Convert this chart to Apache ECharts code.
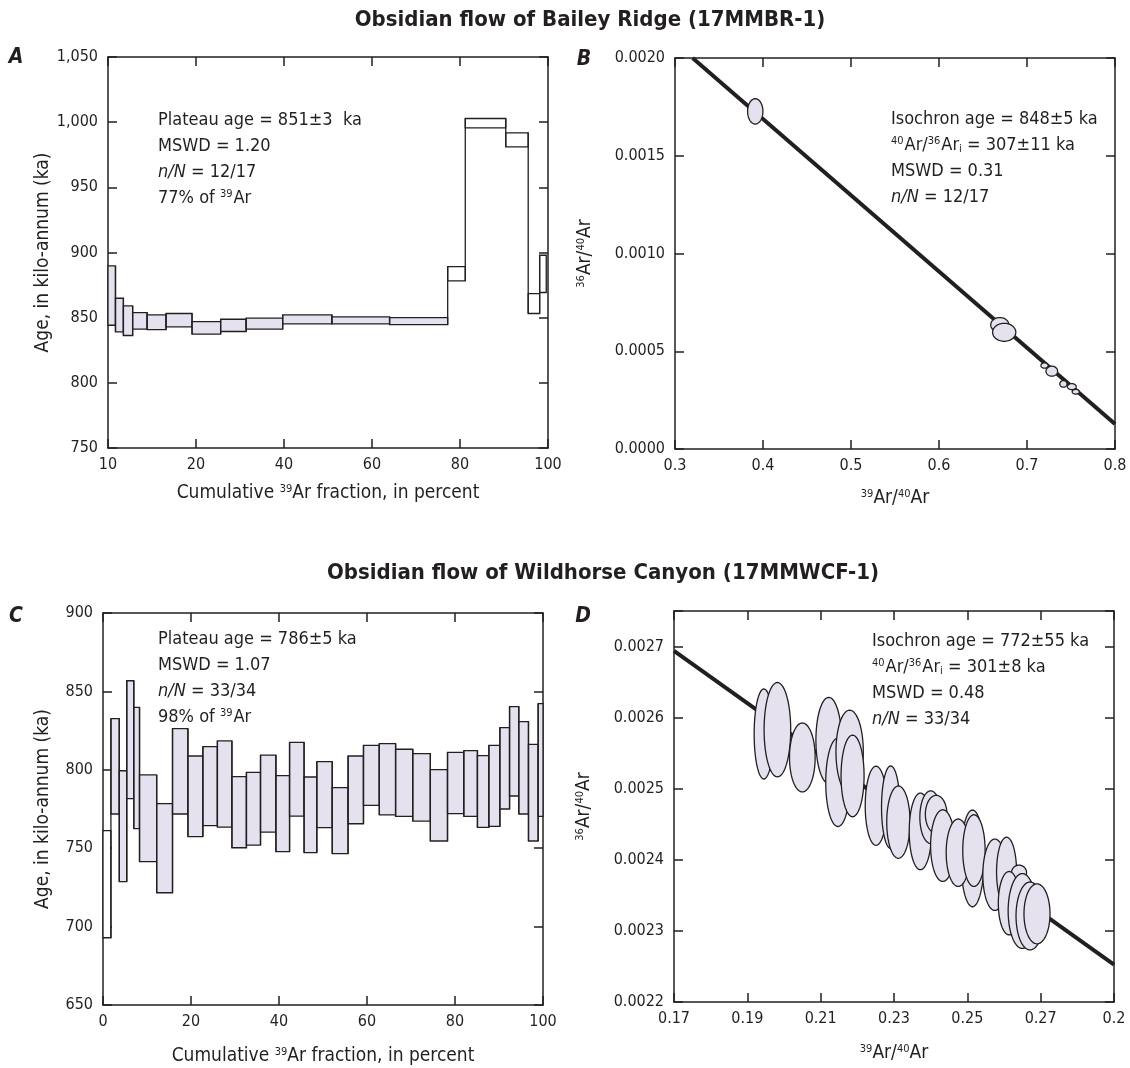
<!DOCTYPE html>
<html><head><meta charset="utf-8">
<script src="https://cdn.jsdelivr.net/npm/echarts@6/dist/echarts.min.js"></script>
<style>html,body{margin:0;padding:0;background:#fff}#c{width:1130px;height:1068px}</style>
</head><body><div id="c"></div>
<script>
const FONT = "'Liberation Sans Narrow','DejaVu Sans Condensed','Roboto Condensed','Liberation Sans',sans-serif";
const INK = '#231f20';
const FILL = '#e6e1ef';

// ---- Panel A: age spectrum, Bailey Ridge (17MMBR-1) ----
const a_cum = [0, 1.7, 3.5, 5.6, 8.9, 13.2, 19.1, 25.6, 31.4, 39.7, 50.9, 64.0, 77.2, 81.2, 90.4, 95.5, 98.1, 99.6];
const a_low = [844.2, 839.1, 836.3, 841.2, 840.9, 843.0, 837.3, 839.4, 841.2, 845.2, 845.2, 844.7, 878.2, 995.6, 981.1, 853.2, 869.3];
const a_high = [889.7, 864.9, 859.0, 853.9, 852.1, 853.2, 847.0, 848.8, 849.6, 852.1, 850.6, 850.1, 889.2, 1002.8, 991.8, 868.5, 897.9];
const a_plateau = [1,1,1,1,1,1,1,1,1,1,1,1,0,0,0,0,0];
const a_xticks = [0, 20, 40, 60, 80, 100];
const a_xtickLabels = ['10', '20', '40', '60', '80', '100'];

// ---- Panel B: isochron, Bailey Ridge ----
const b_x = [0.3912, 0.6691, 0.6741, 0.7199, 0.7282, 0.7414, 0.7509, 0.7554];
const b_y = [0.001727, 0.000635, 0.000597, 0.000427, 0.000398, 0.000333, 0.000319, 0.000293];
const b_sx = [0.0087, 0.0103, 0.0132, 0.0041, 0.0066, 0.0041, 0.0050, 0.0041];
const b_sy = [0.0000648, 0.0000375, 0.000046, 0.0000137, 0.0000256, 0.000017, 0.0000154, 0.000012];
const b_lineX = [0.32, 0.8];
const b_lineY = [0.0020, 0.000128];

// ---- Panel C: age spectrum, Wildhorse Canyon (17MMWCF-1) ----
const c_cum = [0,1.8,3.7,5.4,7.0,8.3,12.2,15.8,19.3,22.7,26.0,29.3,32.6,35.8,39.3,42.4,45.7,48.6,52.1,55.7,59.2,62.8,66.5,70.4,74.4,78.3,82.0,85.1,87.7,90.2,92.4,94.5,96.7,98.9,100];
const c_low = [692.9,771.8,728.7,781.6,762.5,741.4,721.6,771.8,757.4,764.4,763.5,750.3,752.0,760.3,747.8,770.5,747.2,763.1,746.5,765.6,777.3,771.2,770.3,767.3,754.6,772.0,770.3,763.3,763.9,775.0,783.3,771.8,754.6,770.3];
const c_high = [761.2,832.6,799.4,856.8,839.8,796.7,778.4,826.2,808.8,814.8,818.4,795.6,798.4,809.4,796.3,817.5,795.4,805.2,788.6,808.8,815.6,816.7,813.1,810.3,800.1,811.1,812.2,809.0,815.6,826.9,840.3,830.7,816.2,842.2];
const c_plateau = [0].concat(new Array(33).fill(1));

// ---- Panel D: isochron, Wildhorse Canyon ----
const d_x = [0.1945,0.1982,0.2050,0.2122,0.2147,0.2179,0.2187,0.2251,0.2291,0.2312,0.2372,0.2400,0.2415,0.2433,0.2514,0.2475,0.2518,0.2575,0.2607,0.2641,0.2614,0.2650,0.2671,0.2690];
const d_y = [0.002577,0.002583,0.002544,0.002568,0.002509,0.002552,0.002518,0.002476,0.002474,0.002453,0.002440,0.002460,0.002464,0.002420,0.002402,0.002410,0.002413,0.002379,0.002383,0.002382,0.002339,0.002328,0.002321,0.002324];
const d_sx = [0.00264,0.00363,0.00350,0.00350,0.00332,0.00373,0.00314,0.00295,0.00250,0.00318,0.00305,0.00295,0.00295,0.00332,0.00318,0.00327,0.00305,0.00327,0.00273,0.00205,0.00295,0.00387,0.00382,0.00355];
const d_sy = [0.0000633,0.0000664,0.0000485,0.0000605,0.0000621,0.0000586,0.0000574,0.0000556,0.0000580,0.0000509,0.0000539,0.0000370,0.0000267,0.0000504,0.0000680,0.0000474,0.0000504,0.0000502,0.0000488,0.0000105,0.0000446,0.0000527,0.0000478,0.0000422];
const d_lineX = [0.17, 0.29];
const d_lineY = [0.002694, 0.0022527];

const chart = echarts.init(document.getElementById('c'), null, {renderer: 'canvas'});

const grids = [
  {left: 108, top: 57, width: 440, height: 391},
  {left: 675, top: 58, width: 440, height: 391},
  {left: 103, top: 613, width: 440, height: 392},
  {left: 674, top: 611, width: 440, height: 391}
];

const LBL = 16, NAME = 19;
const nameRich = {sup: {fontSize: 11, fontFamily: FONT, color: INK, padding: [0, 0, 8, 0]}};

function xAxes(gi, min, max, interval, fmt, name, nameGap) {
  const common = {
    gridIndex: gi, type: 'value', min: min, max: max, interval: interval,
    splitLine: {show: false},
    axisLine: {show: true, onZero: false, lineStyle: {color: INK, width: 1.5}},
    axisTick: {show: true, inside: true, length: 9, lineStyle: {color: INK, width: 1.5}}
  };
  return [
    Object.assign({}, common, {
      position: 'bottom',
      axisLabel: {show: true, formatter: fmt, fontSize: LBL, fontFamily: FONT, color: INK, margin: 9},
      name: name, nameLocation: 'middle', nameGap: nameGap,
      nameTextStyle: {fontSize: NAME, fontFamily: FONT, color: INK, rich: nameRich}
    }),
    Object.assign({}, common, {position: 'top', axisLabel: {show: false}})
  ];
}
function yAxes(gi, min, max, interval, fmt, name, nameGap) {
  const common = {
    gridIndex: gi, type: 'value', min: min, max: max, interval: interval,
    splitLine: {show: false},
    axisLine: {show: true, onZero: false, lineStyle: {color: INK, width: 1.5}},
    axisTick: {show: true, inside: true, length: 9, lineStyle: {color: INK, width: 1.5}}
  };
  return [
    Object.assign({}, common, {
      position: 'left',
      axisLabel: {show: true, formatter: fmt, fontSize: LBL, fontFamily: FONT, color: INK, margin: 10},
      name: name, nameLocation: 'middle', nameGap: nameGap,
      nameTextStyle: {fontSize: NAME, fontFamily: FONT, color: INK, rich: nameRich}
    }),
    Object.assign({}, common, {position: 'right', axisLabel: {show: false}})
  ];
}

const xAxis = [].concat(
  xAxes(0, 0, 100, 20, v => a_xtickLabels[a_xticks.indexOf(v)] || String(v), 'Cumulative {sup|39}Ar fraction, in percent', 36),
  xAxes(1, 0.3, 0.8, 0.1, v => v.toFixed(1), '{sup|39}Ar/{sup|40}Ar', 40),
  xAxes(2, 0, 100, 20, v => String(v), 'Cumulative {sup|39}Ar fraction, in percent', 42),
  xAxes(3, 0.17, 0.29, 0.02, v => (Math.abs(v - 0.29) < 1e-9 ? '0.2' : v.toFixed(2)), '{sup|39}Ar/{sup|40}Ar', 42)
);
const yAxis = [].concat(
  yAxes(0, 750, 1050, 50, v => v.toLocaleString('en-US'), 'Age, in kilo-annum (ka)', 55),
  yAxes(1, 0, 0.002, 0.0005, v => v.toFixed(4), '{sup|36}Ar/{sup|40}Ar', 80),
  yAxes(2, 650, 900, 50, v => String(v), 'Age, in kilo-annum (ka)', 50),
  yAxes(3, 0.0022, 0.00275, 0.0001, v => {
    const k = Math.round(v / 0.0001); return Math.abs(v - k * 0.0001) < 1e-9 ? v.toFixed(4) : '';
  }, '{sup|36}Ar/{sup|40}Ar', 80)
);

function stepData(cum, low, high, flag) {
  return low.map((l, i) => [cum[i], cum[i + 1], l, high[i], flag[i]]);
}
// vertical risers joining neighbouring steps (span of both adjacent steps)
function riserData(cum, low, high) {
  const out = [];
  for (let i = 1; i < low.length; i++) {
    out.push([cum[i], Math.min(low[i - 1], low[i]), Math.max(high[i - 1], high[i])]);
  }
  return out;
}
function boxItem(params, api) {
  const p0 = api.coord([api.value(0), api.value(3)]);
  const p1 = api.coord([api.value(1), api.value(2)]);
  return {
    type: 'rect',
    shape: {x: p0[0], y: p0[1], width: p1[0] - p0[0], height: p1[1] - p0[1]},
    style: {fill: api.value(4) ? FILL : '#ffffff', stroke: INK, lineWidth: 1.3}
  };
}
function riserItem(params, api) {
  const p0 = api.coord([api.value(0), api.value(1)]);
  const p1 = api.coord([api.value(0), api.value(2)]);
  return {type: 'line', shape: {x1: p0[0], y1: p0[1], x2: p1[0], y2: p1[1]}, style: {stroke: INK, lineWidth: 1.3}};
}
function ellData(xs, ys, sx, sy) {
  return xs.map((x, i) => [x, ys[i], sx[i], sy[i]]);
}
function ellItem(params, api) {
  const c = api.coord([api.value(0), api.value(1)]);
  const s = api.size([api.value(2), api.value(3)]);
  const pts = [];
  for (let k = 0; k < 72; k++) {
    const t = k / 72 * Math.PI * 2;
    pts.push([c[0] + s[0] * Math.cos(t), c[1] + s[1] * Math.sin(t)]);
  }
  return {type: 'polygon', shape: {points: pts}, style: {fill: FILL, stroke: INK, lineWidth: 1.3}};
}

const series = [
  {type: 'custom', xAxisIndex: 0, yAxisIndex: 0, renderItem: boxItem, encode: {x: [0, 1], y: [2, 3]}, data: stepData(a_cum, a_low, a_high, a_plateau), z: 3, silent: true},
  {type: 'custom', xAxisIndex: 0, yAxisIndex: 0, renderItem: riserItem, encode: {x: 0, y: [1, 2]}, data: riserData(a_cum, a_low, a_high), z: 4, silent: true},
  {type: 'line', xAxisIndex: 2, yAxisIndex: 2, data: b_lineX.map((x, i) => [x, b_lineY[i]]), symbol: 'none', lineStyle: {color: INK, width: 4}, z: 2, silent: true},
  {type: 'custom', xAxisIndex: 2, yAxisIndex: 2, renderItem: ellItem, encode: {x: 0, y: 1}, data: ellData(b_x, b_y, b_sx, b_sy), z: 3, silent: true},
  {type: 'custom', xAxisIndex: 4, yAxisIndex: 4, renderItem: boxItem, encode: {x: [0, 1], y: [2, 3]}, data: stepData(c_cum, c_low, c_high, c_plateau), z: 3, silent: true},
  {type: 'custom', xAxisIndex: 4, yAxisIndex: 4, renderItem: riserItem, encode: {x: 0, y: [1, 2]}, data: riserData(c_cum, c_low, c_high), z: 4, silent: true},
  {type: 'line', xAxisIndex: 6, yAxisIndex: 6, data: d_lineX.map((x, i) => [x, d_lineY[i]]), symbol: 'none', lineStyle: {color: INK, width: 4}, z: 2, silent: true},
  {type: 'custom', xAxisIndex: 6, yAxisIndex: 6, renderItem: ellItem, encode: {x: 0, y: 1}, data: ellData(d_x, d_y, d_sx, d_sy), z: 3, silent: true}
];

const ANN = 18, LH = 26;
const annRich = {
  it: {fontStyle: 'italic', fontSize: ANN, fontFamily: FONT, color: INK, lineHeight: LH},
  sup: {fontSize: 11, fontFamily: FONT, color: INK, lineHeight: LH, padding: [0, 1, 8, 0]},
  sub: {fontSize: 11, fontFamily: FONT, color: INK, lineHeight: LH, padding: [9, 0, 0, 0]}
};
function ann(x, y, text) {
  return {type: 'text', x: x, y: y, z: 10, silent: true,
    style: {text: text, fontSize: ANN, fontFamily: FONT, fill: INK, lineHeight: LH, rich: annRich, verticalAlign: 'top'}};
}
function letter(x, y, t) {
  return {type: 'text', x: x, y: y, z: 10, silent: true,
    style: {text: t, fontSize: 21, fontWeight: 'bold', fontStyle: 'italic', fontFamily: FONT, fill: INK, align: 'center', verticalAlign: 'middle'}};
}
function title(x, y, t) {
  return {type: 'text', x: x, y: y, z: 10, silent: true,
    style: {text: t, fontSize: 22, fontWeight: 'bold', fontFamily: FONT, fill: INK, align: 'center', verticalAlign: 'middle'}};
}

const graphic = [
  title(590, 20, 'Obsidian flow of Bailey Ridge (17MMBR-1)'),
  title(603, 573, 'Obsidian flow of Wildhorse Canyon (17MMWCF-1)'),
  letter(16, 58, 'A'), letter(584, 60, 'B'), letter(16, 617, 'C'), letter(583, 617, 'D'),
  ann(158, 107, 'Plateau age = 851±3  ka\nMSWD = 1.20\n{it|n/N} = 12/17\n77% of {sup|39}Ar'),
  ann(891, 106, 'Isochron age = 848±5 ka\n{sup|40}Ar/{sup|36}Ar{sub|i} = 307±11 ka\nMSWD = 0.31\n{it|n/N} = 12/17'),
  ann(158, 626, 'Plateau age = 786±5 ka\nMSWD = 1.07\n{it|n/N} = 33/34\n98% of {sup|39}Ar'),
  ann(872, 628, 'Isochron age = 772±55 ka\n{sup|40}Ar/{sup|36}Ar{sub|i} = 301±8 ka\nMSWD = 0.48\n{it|n/N} = 33/34')
];

chart.setOption({
  animation: false,
  backgroundColor: '#ffffff',
  textStyle: {fontFamily: FONT, color: INK},
  grid: grids,
  xAxis: xAxis,
  yAxis: yAxis,
  series: series,
  graphic: graphic
});
</script>
</body></html>
